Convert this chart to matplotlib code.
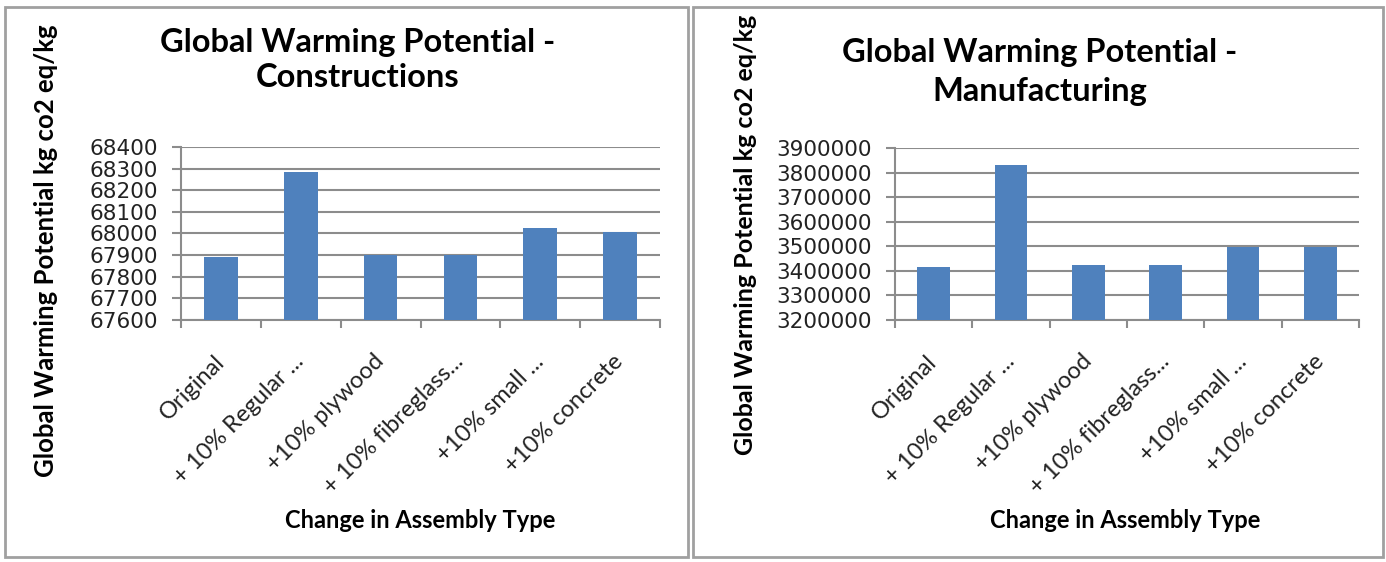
import matplotlib.pyplot as plt
from matplotlib.patches import Rectangle
import numpy as np

categories = ['Original', '+ 10% Regular ...', '+10% plywood', '+ 10% fibreglass...',
              '+10% small ...', '+10% concrete']
construction_values = [67892, 68283, 67900, 67902, 68025, 68008]
manufacturing_values = [3415000, 3831000, 3423000, 3423000, 3498000, 3499000]

W, H = 1386, 562
bar_color = '#4F81BD'
grid_color = '#8C8C8C'
border_color = '#A0A0A0'

fig = plt.figure(figsize=(W / 100, H / 100), dpi=100, facecolor='white')

def px_axes(x0, y0, x1, y1):
    return fig.add_axes([x0 / W, 1 - y1 / H, (x1 - x0) / W, (y1 - y0) / H])

def panel(x0, y0, x1, y1):
    fig.patches.append(Rectangle((x0 / W, 1 - y1 / H), (x1 - x0) / W, (y1 - y0) / H,
                                 transform=fig.transFigure, fill=False,
                                 edgecolor=border_color, linewidth=2))

def draw_chart(ax, values, ymin, ymax, step):
    x = np.arange(len(categories))
    ax.bar(x, [v - ymin for v in values], bottom=ymin, width=0.42, color=bar_color, zorder=3)
    ax.set_xlim(-0.5, len(categories) - 0.5)
    ax.set_ylim(ymin, ymax)
    ax.set_yticks(np.arange(ymin, ymax + step / 2, step))
    ax.yaxis.grid(True, color=grid_color, linewidth=1.5, zorder=0)
    ax.set_axisbelow(True)
    for s in ['top', 'right']:
        ax.spines[s].set_visible(False)
    ax.spines['left'].set_color(grid_color)
    ax.spines['bottom'].set_color(grid_color)
    ax.spines['left'].set_linewidth(1.5)
    ax.spines['bottom'].set_linewidth(1.5)
    ax.tick_params(axis='y', labelsize=15.5, colors=grid_color, labelcolor='#222222',
                   length=6.5, width=1.5, pad=10)
    ax.set_yticklabels([str(int(t)) for t in ax.get_yticks()], family='DejaVu Sans')
    # category boundary ticks
    ax.set_xticks(np.arange(-0.5, len(categories), 1.0))
    ax.set_xticklabels([])
    ax.tick_params(axis='x', length=6, width=1.5, colors=grid_color)
    ax.set_xticks(x, minor=True)
    ax.set_xticklabels(categories, minor=True, rotation=45, ha='right', va='center',
                       rotation_mode='anchor', fontsize=17, family='Lato',
                       color='#222222')
    ax.tick_params(axis='x', which='minor', length=0, pad=27.5)

# left panel
panel(5, 7, 688, 557)
ax1 = px_axes(181, 147, 660, 320)
draw_chart(ax1, construction_values, 67600, 68400, 100)
fig.text(358 / W, 1 - 60 / H, 'Global Warming Potential -\nConstructions', ha='center',
         va='center', fontsize=23.5, fontweight='bold', family='Lato', linespacing=1.25)
fig.text(46 / W, 1 - 251 / H, 'Global Warming Potential kg co2 eq/kg', rotation=90,
         ha='center', va='center', fontsize=18.5, fontweight='bold', family='Lato')
fig.text(420 / W, 1 - 521 / H, 'Change in Assembly Type', ha='center', va='center',
         fontsize=17, fontweight='bold', family='Lato')

# right panel
panel(693, 7, 1383, 557)
ax2 = px_axes(895, 148, 1359, 320)
draw_chart(ax2, manufacturing_values, 3200000, 3900000, 100000)
fig.text(1040 / W, 1 - 72 / H, 'Global Warming Potential -\nManufacturing', ha='center',
         va='center', fontsize=23.5, fontweight='bold', family='Lato', linespacing=1.45)
fig.text(746 / W, 1 - 235 / H, 'Global Warming Potential kg co2 eq/kg', rotation=90,
         ha='center', va='center', fontsize=18, fontweight='bold', family='Lato')
fig.text(1125 / W, 1 - 521 / H, 'Change in Assembly Type', ha='center', va='center',
         fontsize=17, fontweight='bold', family='Lato')

fig.savefig('out.png', dpi=100, facecolor='white')
